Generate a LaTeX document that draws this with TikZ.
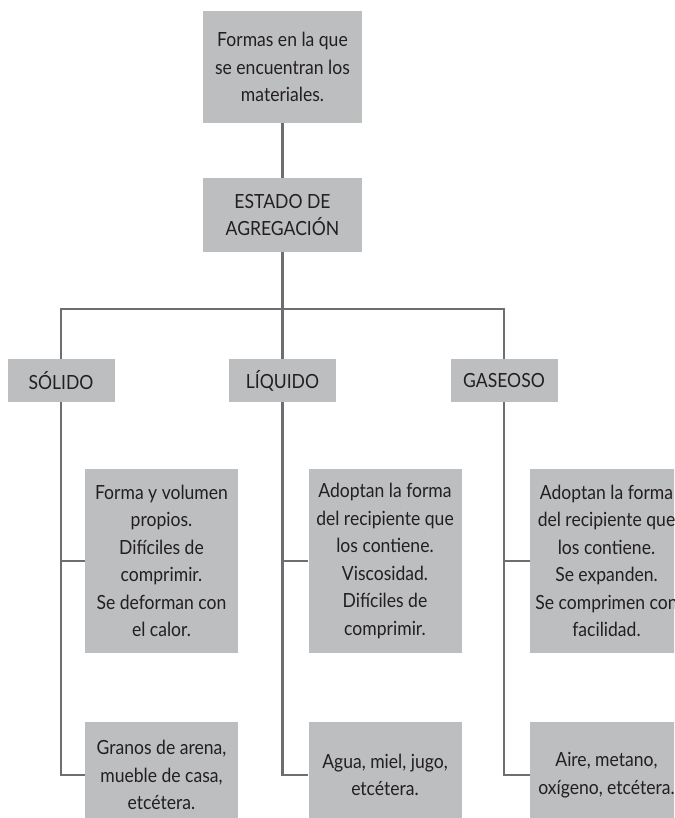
\documentclass[tikz,border=0pt]{standalone}
\usepackage{fontspec}
\setmainfont{Lato}[FakeStretch=0.9]
\definecolor{boxgray}{HTML}{BCBEC0}
\definecolor{linegray}{HTML}{6D6E71}
\definecolor{txtgray}{HTML}{231F20}
\begin{document}
\begin{tikzpicture}[x=1pt, y=-1pt,
  main/.style = {fill=boxgray, text=txtgray, align=center, inner sep=0pt, font=\fontsize{19.5}{27.5}\selectfont},
  head/.style = {main, minimum width=159pt},
  state/.style = {main, minimum width=107pt, minimum height=43pt},
  info/.style = {main, minimum width=153pt},
  link/.style = {draw=linegray, line width=2.4pt}]
\useasboundingbox (0,0) rectangle (674,818);
\clip (0,0) rectangle (674,818);

\node[head, minimum height=112pt] (1) at (282.5,67) {Formas en la que\\se encuentran los\\materiales.};
\node[head, minimum height=74pt] (2) at (282.5,215) {ESTADO DE\\AGREGACIÓN};

\node[state] (3) at (61,380.5) {SÓLIDO};
\node[state] (4) at (282.5,380.5) {LÍQUIDO};
\node[state] (5) at (504,380.5) {GASEOSO};

\node[info, minimum height=184pt] (6) at (161.5,561) {Forma y volumen\\propios.\\Difíciles de\\comprimir.\\Se deforman con\\el calor.};
\node[info, minimum height=184pt] (7) at (385,561) {Adoptan la forma\\del recipiente que\\los contiene.\\Viscosidad.\\Difíciles de\\comprimir.};
\node[info, minimum height=184pt] (8) at (606.5,561) {Adoptan la forma\\del recipiente que\\los contiene.\\Se expanden.\\Se comprimen con\\facilidad.};

\node[info, minimum height=106pt] (9) at (161.5,775) {Granos de arena,\\mueble de casa,\\etcétera.};
\node[info, minimum height=106pt] (10) at (385,775) {Agua, miel, jugo,\\etcétera.};
\node[info, minimum height=106pt] (11) at (606.5,775) {Aire, metano,\\oxígeno, etcétera.};

\coordinate (b) at (282.5,309);

\draw[link] (1) -- (2);
\draw[link] (2) -- (b);
\draw[link] (3.north) |- (b) -| (5.north);
\draw[link] (b) -- (4);

\draw[link] (3) |- (6);
\draw[link] (3) |- (9);
\draw[link] (4) |- (7);
\draw[link] (4) |- (10);
\draw[link] (5) |- (8);
\draw[link] (5) |- (11);

\end{tikzpicture}
\end{document}
